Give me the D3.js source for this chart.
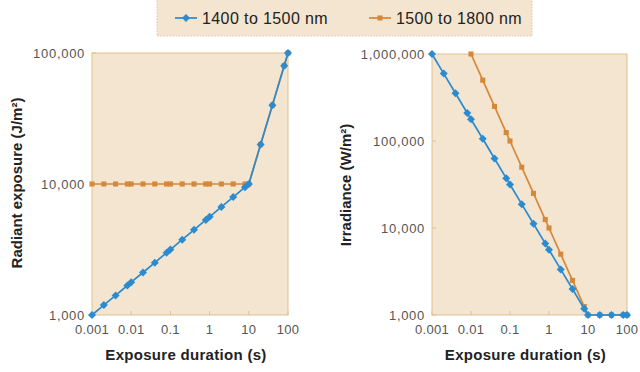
<!DOCTYPE html>
<html>
<head>
<meta charset="utf-8">
<script src="https://cdn.jsdelivr.net/npm/d3@7"></script>
<style>
  html, body { margin: 0; padding: 0; background: #fff; }
  svg { display: block; font-family: "Liberation Sans", Arial, sans-serif; }
</style>
</head>
<body>
<svg id="chart" width="640" height="372"></svg>
<script>
// exposure durations (s), shared by both panels
const durations = [0.001, 0.002, 0.004, 0.008, 0.01, 0.02, 0.04, 0.08, 0.1, 0.2, 0.4, 0.8, 1, 2, 4, 8, 10, 20, 40, 80, 100];

// radiant exposure (J/m²)
const exposure1400 = [1000, 1190, 1410, 1680, 1780, 2110, 2510, 2990, 3160, 3760, 4470, 5320, 5620, 6680, 7950, 9450, 10000, 20000, 40000, 80000, 100000];
const exposure1500 = [10000, 10000, 10000, 10000, 10000, 10000, 10000, 10000, 10000, 10000, 10000, 10000, 10000, 10000, 10000, 10000, 10000, 20000, 40000, 80000, 100000];

// irradiance (W/m²); the 1500-1800 nm series starts at 0.01 s
const irradiance1400 = [1000000, 595000, 354000, 210000, 178000, 106000, 63000, 37400, 31600, 18800, 11200, 6650, 5620, 3340, 1990, 1180, 1000, 1000, 1000, 1000, 1000];
const irradianceDurations1500 = [0.01, 0.02, 0.04, 0.08, 0.1, 0.2, 0.4, 0.8, 1, 2, 4, 8, 10, 20, 40, 80, 100];
const irradiance1500 = [1000000, 500000, 250000, 125000, 100000, 50000, 25000, 12500, 10000, 5000, 2500, 1250, 1000, 1000, 1000, 1000, 1000];

const xTicks = [0.001, 0.01, 0.1, 1, 10, 100];
const xTickLabels = ['0.001', '0.01', '0.1', '1', '10', '100'];
const leftYTicks = [1000, 10000, 100000];
const rightYTicks = [1000, 10000, 100000, 1000000];
const seriesNames = ['1400 to 1500 nm', '1500 to 1800 nm'];

const blue = '#2a8bd0';
const orange = '#d6883a';
const panelFill = '#f3e5cf';
const panelStroke = '#e3bf8f';

const svg = d3.select('#chart');
const fmt = d3.format(',');

// blue marker is a square turned 45 degrees, orange a plain square
const markers = {
    blue: { symbol: d3.symbolSquare, size: 32, rotate: 45 },
    orange: { symbol: d3.symbolSquare, size: 26, rotate: 0 }
};

function drawPanel(opts) {
    const x = d3.scaleLog().domain([0.001, 100]).range(opts.xRange);
    const y = d3.scaleLog().domain(opts.yDomain).range([315, opts.top]);
    const g = svg.append('g');

    g.append('rect')
        .attr('x', opts.xRange[0]).attr('y', opts.top)
        .attr('width', opts.xRange[1] - opts.xRange[0])
        .attr('height', 315 - opts.top)
        .attr('fill', panelFill)
        .attr('stroke', panelStroke)
        .attr('stroke-width', 1);

    // y ticks
    g.selectAll('line.ytick')
        .data(opts.yTicks)
        .enter().append('line')
        .attr('x1', opts.xRange[0]).attr('x2', opts.xRange[0] + 4)
        .attr('y1', d => y(d)).attr('y2', d => y(d))
        .attr('stroke', panelStroke);
    g.selectAll('text.ylab')
        .data(opts.yTicks)
        .enter().append('text')
        .attr('x', opts.xRange[0] - 7)
        .attr('y', d => y(d) + 4.5)
        .attr('text-anchor', 'end')
        .attr('font-size', '13px')
        .attr('letter-spacing', '0.7px')
        .attr('fill', '#555')
        .text(d => fmt(d));

    // x ticks
    g.selectAll('line.xtick')
        .data(xTicks)
        .enter().append('line')
        .attr('x1', d => x(d)).attr('x2', d => x(d))
        .attr('y1', 315).attr('y2', 311)
        .attr('stroke', panelStroke);
    g.selectAll('text.xlab')
        .data(xTicks)
        .enter().append('text')
        .attr('x', d => x(d))
        .attr('y', 334)
        .attr('text-anchor', 'middle')
        .attr('font-size', '13px')
        .attr('letter-spacing', '0.3px')
        .attr('fill', '#555')
        .text((d, i) => xTickLabels[i]);

    // axis titles
    g.append('text')
        .attr('x', (opts.xRange[0] + opts.xRange[1]) / 2 - 4)
        .attr('y', 360)
        .attr('text-anchor', 'middle')
        .attr('font-size', '15px')
        .attr('font-weight', 'bold')
        .attr('letter-spacing', '0.3px')
        .attr('fill', '#222')
        .text('Exposure duration (s)');
    g.append('text')
        .attr('transform', `translate(${opts.yTitleX},${opts.yTitleY}) rotate(-90)`)
        .attr('text-anchor', 'middle')
        .attr('font-size', '15px')
        .attr('font-weight', 'bold')
        .attr('fill', '#222')
        .text(opts.yTitle);

    const line = d3.line().x(d => x(d[0])).y(d => y(d[1]));
    opts.series.forEach(s => {
        const pts = s.xs.map((t, i) => [t, s.ys[i]]);
        const m = markers[s.marker];
        g.append('path')
            .attr('d', line(pts))
            .attr('fill', 'none')
            .attr('stroke', s.color)
            .attr('stroke-width', 1.7);
        g.selectAll(null)
            .data(pts)
            .enter().append('path')
            .attr('transform', d => `translate(${x(d[0])},${y(d[1])}) rotate(${m.rotate})`)
            .attr('d', d3.symbol().type(m.symbol).size(m.size))
            .attr('fill', s.color);
    });
}

drawPanel({
    xRange: [92, 288],
    top: 53,
    yDomain: [1000, 100000],
    yTicks: leftYTicks,
    yTitle: 'Radiant exposure (J/m²)',
    yTitleX: 22,
    yTitleY: 183,
    series: [
        { xs: durations, ys: exposure1500, color: orange, marker: 'orange' },
        { xs: durations, ys: exposure1400, color: blue, marker: 'blue' }
    ]
});

drawPanel({
    xRange: [432, 627],
    top: 54,
    yDomain: [1000, 1000000],
    yTicks: rightYTicks,
    yTitle: 'Irradiance (W/m²)',
    yTitleX: 351,
    yTitleY: 185,
    series: [
        { xs: irradianceDurations1500, ys: irradiance1500, color: orange, marker: 'orange' },
        { xs: durations, ys: irradiance1400, color: blue, marker: 'blue' }
    ]
});

// legend
const legend = svg.append('g');
legend.append('rect')
    .attr('x', 157).attr('y', -2)
    .attr('width', 375).attr('height', 38)
    .attr('fill', panelFill)
    .attr('stroke', '#d9c9ad')
    .attr('stroke-dasharray', '1.5,1.5');
const legendItems = [
    { name: seriesNames[0], color: blue, marker: 'blue', x: 175 },
    { name: seriesNames[1], color: orange, marker: 'orange', x: 369 }
];
legendItems.forEach(it => {
    const m = markers[it.marker];
    legend.append('line')
        .attr('x1', it.x).attr('x2', it.x + 22)
        .attr('y1', 18).attr('y2', 18)
        .attr('stroke', it.color).attr('stroke-width', 1.7);
    legend.append('path')
        .attr('transform', `translate(${it.x + 11},18) rotate(${m.rotate})`)
        .attr('d', d3.symbol().type(m.symbol).size(m.size))
        .attr('fill', it.color);
    legend.append('text')
        .attr('x', it.x + 27)
        .attr('y', 23.5)
        .attr('font-size', '16px')
        .attr('letter-spacing', '0.4px')
        .attr('fill', '#222')
        .text(it.name);
});
</script>
</body>
</html>
